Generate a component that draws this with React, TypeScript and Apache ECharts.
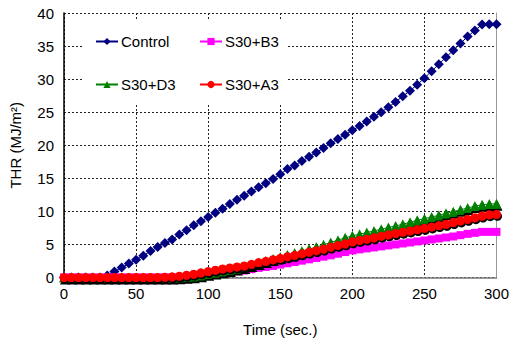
import React, { useEffect, useRef } from "react";
import * as echarts from "echarts";

const times = [
  0, 5, 10, 15, 20, 25, 30, 35, 40, 45, 50, 55, 60, 65, 70, 75, 80, 85, 90, 95,
  100, 105, 110, 115, 120, 125, 130, 135, 140, 145, 150, 155, 160, 165, 170, 175, 180, 185, 190, 195,
  200, 205, 210, 215, 220, 225, 230, 235, 240, 245, 250, 255, 260, 265, 270, 275, 280, 285, 290, 295, 300,
];

const control = [
  0, 0, 0, 0, 0, 0, 0.3, 0.9, 1.5, 2.1, 2.7, 3.3, 4.0, 4.6, 5.2, 5.75, 6.5, 7.15, 7.9, 8.5,
  9.15, 9.8, 10.4, 11.1, 11.75, 12.35, 13.0, 13.65, 14.25, 14.9, 15.6, 16.4, 16.95, 17.6, 18.25, 18.9, 19.6, 20.3, 20.95, 21.6,
  22.25, 22.9, 23.6, 24.3, 25.0, 25.75, 26.55, 27.4, 28.25, 29.15, 30.15, 31.2, 32.25, 33.3, 34.35, 35.4, 36.45, 37.35, 38.25, 38.3, 38.3,
];

const s30b3 = [
  0, 0, 0, 0, 0, 0, 0, 0, 0, 0, 0, 0, 0, 0, 0, 0, 0, 0.05, 0.1, 0.2,
  0.35, 0.5, 0.65, 0.8, 0.95, 1.05, 1.25, 1.45, 1.6, 1.75, 1.95, 2.15, 2.35, 2.55, 2.75, 2.95, 3.15, 3.35, 3.6, 3.85,
  4.1, 4.25, 4.4, 4.55, 4.7, 4.85, 5.0, 5.15, 5.3, 5.45, 5.6, 5.75, 5.9, 6.05, 6.2, 6.4, 6.6, 6.75, 6.9, 6.9, 6.9,
];

const s30d3 = [
  0, 0, 0, 0, 0, 0, 0, 0, 0, 0, 0, 0, 0, 0, 0, 0, 0.05, 0.1, 0.2, 0.35,
  0.55, 0.75, 0.95, 1.15, 1.35, 1.6, 1.9, 2.2, 2.5, 2.8, 3.1, 3.4, 3.7, 4.0, 4.3, 4.6, 4.95, 5.3, 5.65, 6.0,
  6.3, 6.55, 6.8, 7.05, 7.3, 7.55, 7.8, 8.05, 8.35, 8.65, 8.9, 9.15, 9.4, 9.7, 9.95, 10.25, 10.5, 10.8, 11.0, 11.1, 11.15,
];

const s30a3 = [
  0, 0, 0, 0, 0, 0, 0, 0, 0, 0, 0, 0, 0, 0, 0.05, 0.1, 0.2, 0.35, 0.5, 0.7,
  0.9, 1.1, 1.3, 1.45, 1.6, 1.75, 2.0, 2.25, 2.45, 2.7, 2.9, 3.15, 3.35, 3.6, 3.85, 4.05, 4.3, 4.6, 4.85, 5.1,
  5.4, 5.6, 5.8, 6.0, 6.25, 6.45, 6.65, 6.85, 7.05, 7.25, 7.45, 7.65, 7.85, 8.05, 8.3, 8.55, 8.8, 9.05, 9.3, 9.5, 9.55,
];

const seriesNames = ["Control", "S30+B3", "S30+D3", "S30+A3"];
const seriesColors = ["#000080", "#FF00FF", "#008000", "#FF0000"];
const yTicks = { min: 0, max: 40, interval: 5 };
const xTicks = { min: 0, max: 300, interval: 50 };

const FONT = "'Liberation Sans', Arial, sans-serif";

function pairs(vals: number[]) {
  return times.map((t, i) => [t, vals[i]]);
}

export default function App() {
  const ref = useRef<HTMLDivElement>(null);
  useEffect(() => {
    if (!ref.current) return;
    const chart = echarts.init(ref.current, undefined, { renderer: "svg" });
    const shadow = {
      shadowColor: "#000",
      shadowBlur: 0,
      shadowOffsetX: 1,
      shadowOffsetY: 2,
    };
    const legendCommon = {
      orient: "vertical" as const,
      itemWidth: 22,
      itemHeight: 9,
      itemGap: 28,
      padding: 0,
      z: 10,
      textStyle: { fontFamily: FONT, fontSize: 15, color: "#000", padding: [0, 0, 0, -2] },
      itemStyle: { shadowBlur: 0, shadowOffsetX: 0, shadowOffsetY: 0, shadowColor: "transparent" },
    };
    chart.setOption({
      animation: false,
      backgroundColor: "#fff",
      textStyle: { fontFamily: FONT },
      grid: { left: 63, right: 12, top: 13, bottom: 64.5, containLabel: false },
      graphic: [
        {
          type: "rect",
          z: 1,
          shape: { x: 82, y: 20, width: 204, height: 85 },
          style: { fill: "#fff" },
        },
      ],
      legend: [
        { ...legendCommon, left: 95, top: 34, data: [seriesNames[0], seriesNames[2]] },
        { ...legendCommon, left: 199, top: 34, data: [seriesNames[1], seriesNames[3]] },
      ],
      xAxis: {
        type: "value",
        ...xTicks,
        name: "Time (sec.)",
        nameLocation: "middle",
        nameGap: 44,
        nameTextStyle: { fontFamily: FONT, fontSize: 15, color: "#000" },
        axisLine: { show: true, onZero: false, lineStyle: { color: "#777", width: 1.5 } },
        axisTick: { show: false },
        axisLabel: { margin: 8, fontFamily: FONT, fontSize: 15, color: "#000" },
        splitLine: { show: true, lineStyle: { color: "#222", type: [2, 2], width: 1 } },
      },
      yAxis: [
        {
          type: "value",
          ...yTicks,
          name: "THR (MJ/m²)",
          nameLocation: "middle",
          nameGap: 41,
          nameTextStyle: { fontFamily: FONT, fontSize: 15, color: "#000" },
          axisLine: { show: true, onZero: false, lineStyle: { color: "#000", width: 1.5 } },
          axisTick: { show: false },
          axisLabel: { margin: 10, fontFamily: FONT, fontSize: 15, color: "#000" },
          splitLine: { show: true, lineStyle: { color: "#222", type: [2, 2], width: 1 } },
        },
        {
          type: "value",
          ...yTicks,
          position: "right",
          axisLine: { show: true, onZero: false, lineStyle: { color: "#999", width: 1 } },
          axisTick: { show: false },
          axisLabel: { show: false },
          splitLine: { show: false },
        },
      ],
      series: [
        {
          name: seriesNames[0],
          type: "line",
          data: pairs(control),
          symbol: "diamond",
          symbolSize: 10,
          color: seriesColors[0],
          lineStyle: { width: 1, color: seriesColors[0] },
          itemStyle: { color: seriesColors[0] },
          z: 3,
        },
        {
          name: seriesNames[1],
          type: "line",
          data: pairs(s30b3),
          symbol: "rect",
          symbolSize: 8,
          color: seriesColors[1],
          lineStyle: { width: 1, color: seriesColors[1] },
          itemStyle: { color: seriesColors[1] },
          z: 3,
        },
        {
          name: seriesNames[2],
          type: "line",
          data: pairs(s30d3),
          symbol: "triangle",
          symbolSize: 10,
          color: seriesColors[2],
          lineStyle: { width: 1, color: seriesColors[2] },
          itemStyle: { color: seriesColors[2], ...shadow },
          z: 4,
        },
        {
          name: seriesNames[3],
          type: "line",
          data: pairs(s30a3),
          symbol: "circle",
          symbolSize: 9,
          color: seriesColors[3],
          lineStyle: { width: 1, color: seriesColors[3] },
          itemStyle: { color: seriesColors[3], ...shadow },
          z: 5,
        },
      ],
    });
    return () => chart.dispose();
  }, []);
  return (
    <div
      ref={ref}
      style={{ position: "fixed", left: 0, top: 0, width: 512, height: 342 }}
    />
  );
}
